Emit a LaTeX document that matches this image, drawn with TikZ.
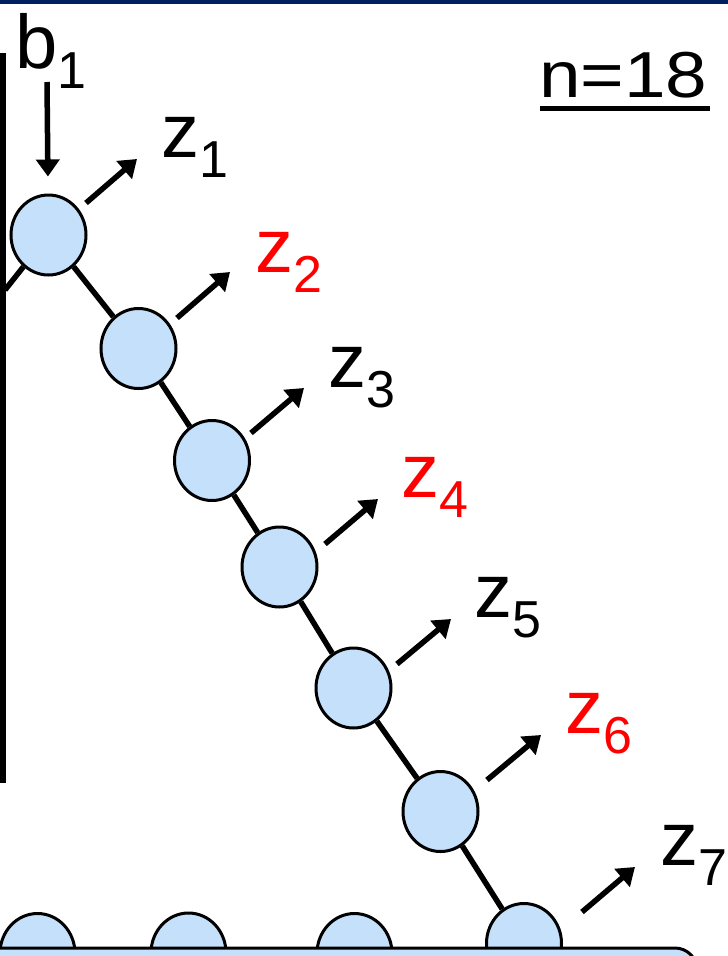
\documentclass[tikz,border=0pt]{standalone}
\usepackage{fontspec}
\setmainfont{Liberation Sans}
\usetikzlibrary{shapes.geometric,arrows.meta}
\definecolor{ballblue}{RGB}{197,224,250}
\definecolor{topnavy}{RGB}{0,32,96}
\definecolor{zred}{RGB}{255,0,0}
\newcommand{\zsub}[2]{#1\raisebox{-0.27em}{\fontsize{52}{52}\selectfont #2}}

\begin{document}
\begin{tikzpicture}[x=1pt,y=-1pt,
  ball/.style={draw,ellipse,fill=ballblue,line width=3pt,minimum width=75pt,minimum height=80pt,inner sep=0pt},
  link/.style={line width=5.5pt},
  outarrow/.style={-{Triangle[length=17pt,width=23pt]},line width=5.5pt},
  lab/.style={inner sep=0pt,anchor=base west,font=\fontsize{76}{80}\selectfont}]
  \useasboundingbox (0,0) rectangle (728,956);
  \fill[topnavy] (0,0) rectangle (728,4);
  % wall on the left
  \coordinate (wtop) at (3,53);
  \coordinate (wbot) at (3,783);
  \coordinate (wj) at (5,290);
  \draw[line width=6.5pt] (wtop) -- (wbot);
  % chain of balls
  \node[ball] (c1) at (48.5,235) {};
  \node[ball] (c2) at (138.5,348.5) {};
  \node[ball] (c3) at (212,460.5) {};
  \node[ball] (c4) at (279.5,567) {};
  \node[ball] (c5) at (353.5,688) {};
  \node[ball] (c6) at (440.5,811.5) {};
  \node[ball] (c7) at (524,943.5) {};
  \node[ball] (r1) at (37.5,953.5) {};
  \node[ball] (r2) at (188.5,953) {};
  \node[ball] (r3) at (354.5,953.5) {};
  \draw[link] (c1) -- (wj);
  \draw[link] (c1) -- (c2);
  \draw[link] (c2) -- (c3);
  \draw[link] (c3) -- (c4);
  \draw[link] (c4) -- (c5);
  \draw[link] (c5) -- (c6);
  \draw[link] (c6) -- (c7);
  % surface
  \draw[fill=ballblue,line width=3pt,rounded corners=22pt] (-20,948) rectangle (697,1010);
  % input
  \node[lab] (b1) at (15,68) {\zsub{b}{1}};
  \coordinate (b1in) at (47,82);
  \draw[outarrow,shorten >=17pt] (b1in) -- (c1);
  % outputs
  \coordinate (s1) at (86,203);  \coordinate (t1) at (137,159);
  \coordinate (s2) at (177,318); \coordinate (t2) at (230,272);
  \coordinate (s3) at (251,433); \coordinate (t3) at (304,388);
  \coordinate (s4) at (325,544); \coordinate (t4) at (378,499);
  \coordinate (s5) at (397,664); \coordinate (t5) at (451,619);
  \coordinate (s6) at (487,780); \coordinate (t6) at (541,735);
  \coordinate (s7) at (582,912); \coordinate (t7) at (635,867);
  \draw[outarrow] (s1) -- (t1);
  \draw[outarrow] (s2) -- (t2);
  \draw[outarrow] (s3) -- (t3);
  \draw[outarrow] (s4) -- (t4);
  \draw[outarrow] (s5) -- (t5);
  \draw[outarrow] (s6) -- (t6);
  \draw[outarrow] (s7) -- (t7);
  \node[lab] (z1) at (161.5,157) {\zsub{z}{1}};
  \node[lab,text=zred] (z2) at (255.5,272) {\zsub{z}{2}};
  \node[lab] (z3) at (328.5,387) {\zsub{z}{3}};
  \node[lab,text=zred] (z4) at (401.5,497) {\zsub{z}{4}};
  \node[lab] (z5) at (474.5,617) {\zsub{z}{5}};
  \node[lab,text=zred] (z6) at (565.5,733) {\zsub{z}{6}};
  \node[lab] (z7) at (660.5,865) {\zsub{z}{7}};
  % size
  \node[lab,font=\fontsize{65}{70}\selectfont] (nlab) at (539,97) {\scalebox{1.15}[1]{n=18}};
  \coordinate (ul1) at (540,108);
  \coordinate (ul2) at (710,108);
  \draw[line width=5pt] (ul1) -- (ul2);
\end{tikzpicture}
\end{document}
